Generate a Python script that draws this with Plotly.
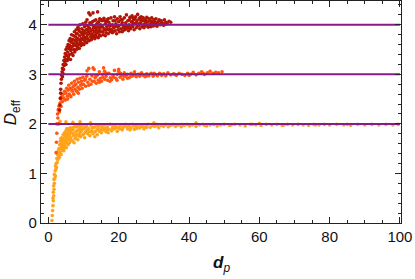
import plotly.graph_objects as go

# ---- data (d_p, D_eff) ----
series_names = ["D=2", "D=3", "D=4"]
series_colors = ["#FFA31A", "#FF5511", "#B01505"]
asymptotes = [2, 3, 4]
line_x = [0, 100]

orange_pts = [
    (1.0,0.05),(1.1,0.15),(1.2,0.25),(1.3,0.35),(1.3,0.5),(1.4,0.45),(1.4,0.62),(1.5,0.55),(1.5,0.75),(1.6,0.68),
    (1.6,0.88),(1.7,0.8),(1.7,0.98),(1.8,0.9),(1.9,1.05),(2.0,0.95),(2.0,1.15),(2.1,1.08),(2.2,1.2),(2.3,1.12),
    (2.4,1.3),(2.5,1.22),(2.6,1.38),(2.7,1.28),(2.8,1.45),(2.9,1.35),(3.0,1.5),(3.1,1.32),(3.2,1.58),(3.3,1.42),
    (3.4,1.65),(3.5,1.5),(3.6,1.38),(3.7,1.6),(3.8,1.72),(3.9,1.46),(4.0,1.66),(4.1,1.55),(4.2,1.78),(4.3,1.5),
    (4.4,1.7),(4.5,1.6),(4.6,1.82),(4.7,1.55),(4.8,1.75),(4.9,1.66),(5.0,1.86),(5.1,1.52),(5.2,1.72),(5.3,1.62),
    (5.4,1.8),(5.5,1.9),(5.6,1.58),(5.7,1.76),(5.8,1.68),(5.9,1.85),(6.0,1.62),(6.2,1.92),(6.4,1.72),(6.6,1.82),
    (6.8,1.66),(7.0,1.88),(7.2,1.76),(7.4,1.94),(7.6,1.7),(7.8,1.84),(8.0,1.78),(8.2,1.95),(8.4,1.68),(8.6,1.88),
    (8.8,1.8),(9.0,1.92),(9.2,1.74),(9.4,1.86),(9.6,1.97),(9.8,1.78),(10.0,1.9),(10.3,1.72),(10.6,1.84),(10.9,1.95),
    (11.2,1.8),(11.5,1.9),(11.8,1.76),(12.1,1.97),(12.4,1.86),(12.7,1.8),(13.0,1.93),(13.3,1.84),(13.6,1.98),(13.9,1.78),
    (14.2,1.9),(14.5,1.85),(14.8,1.96),(15.1,1.82),(15.4,1.92),(15.7,1.88),(16.0,1.98),(16.4,1.84),(16.8,1.94),(17.2,1.89),
    (17.6,1.99),(18.0,1.86),(18.4,1.95),(18.8,1.9),(19.2,1.98),(19.6,1.85),(20.0,1.93),(20.5,1.97),(21.0,1.88),(21.5,1.95),
    (22.0,1.99),(22.5,1.9),(23.0,1.96),(23.5,1.92),(24.0,1.99),(24.5,1.89),(25.0,1.95),(25.5,1.98),(26.0,1.92),(26.6,1.97),
    (27.2,1.9),(27.8,1.96),(28.4,1.99),(29.0,1.93),(29.6,1.97),(30.2,1.95),(30.8,1.99),(31.4,1.92),(32.0,1.97),(32.7,1.95),
    (33.4,1.99),(34.1,1.94),(34.8,1.97),(35.5,1.99),(36.2,1.95),(37.0,1.98),(37.8,1.94),(38.6,1.97),(39.4,1.99),(40.2,1.96),
    (41.0,1.98),(42.0,1.95),(43.0,1.98),(44.0,1.99),(45.0,1.96),(46.0,1.98),(47.0,1.99),(48.0,1.96),(49.0,1.98),(50.0,1.99),
    (51.5,1.97),(53.0,1.99),(54.5,1.98),(56.0,1.96),(57.5,1.99),(59.0,1.98),(60.5,1.97),(62.0,1.99),(63.5,1.98),(65.0,1.99),
    (66.5,1.97),(68.0,1.99),(69.5,1.98),(71.0,1.99),(72.5,1.98),(74.0,1.97),(75.5,1.99),(77.0,1.98),(78.5,1.99),(80.0,1.98),
    (82.0,1.99),(84.0,1.98),(86.0,1.97),(88.0,1.99),(90.0,1.98),(92.0,1.99),(94.0,1.98),(96.0,1.99),(98.0,1.98),(99.5,1.99),
    (3.3,2.05),(5.0,2.04),(7.0,2.03),(9.0,2.04),(12.0,2.02),(30.0,2.02),(42.0,2.02),(60.0,2.01),
    (3.5,1.7),(4.4,1.46),(5.2,1.9),(6.1,1.78),(6.9,1.92),(7.3,1.62),(8.1,1.86),(9.1,1.84),(10.1,1.8),(11.0,1.88),
    (12.0,1.84),(13.2,1.74),(14.0,1.95),(15.0,1.88),(16.2,1.91),(17.0,1.82),(18.2,1.91),(19.4,1.93),(21.2,1.92),(23.2,1.88),
    (25.2,1.91),(27.0,1.94),(3.8,1.55),(4.6,1.68),(5.5,1.7),(6.4,1.88),(7.8,1.72),(8.8,1.96),
    (4.2,1.62),(4.9,1.78),(5.7,1.84),(6.3,1.66),(7.1,1.8),(7.9,1.94),(8.6,1.76),(9.4,1.9),(10.5,1.94),(11.4,1.84),
    (12.5,1.92),(13.8,1.88),(15.3,1.96),(16.6,1.88),(18.6,1.97),(20.3,1.9),(22.3,1.94),(24.3,1.96),(26.3,1.95),(28.0,1.93),
    (31.0,1.96),(33.0,1.97),(36.0,1.97),(38.0,1.99),(44.5,1.97),(52.0,1.98),(58.0,1.99),(67.0,1.98),(76.0,1.98),(85.0,1.99),
]

orangered_pts = [
    (2.6,2.2),(2.8,2.28),(3.0,2.36),(3.1,2.24),(3.3,2.42),(3.5,2.5),(3.6,2.35),(3.8,2.55),(4.0,2.45),(4.2,2.6),
    (4.4,2.52),(4.6,2.66),(4.8,2.48),(5.0,2.62),(5.2,2.72),(5.4,2.56),(5.6,2.68),(5.8,2.78),(6.0,2.6),(6.2,2.72),
    (6.4,2.55),(6.6,2.82),(6.8,2.66),(7.0,2.75),(7.2,2.6),(7.4,2.86),(7.6,2.7),(7.8,2.8),(8.0,2.66),(8.2,2.9),
    (8.4,2.74),(8.6,2.84),(8.8,2.7),(9.0,2.92),(9.2,2.78),(9.4,2.86),(9.6,2.72),(9.8,2.94),(10.0,2.8),(10.3,2.88),
    (10.6,2.76),(10.9,2.96),(11.2,2.84),(11.5,3.12),(11.8,2.9),(12.1,2.8),(12.4,2.97),(12.7,3.13),(13.0,2.86),(13.3,2.93),
    (13.6,2.82),(13.9,2.98),(14.2,2.88),(14.5,3.05),(14.8,2.92),(15.1,2.86),(15.4,3.0),(15.7,3.13),(16.0,2.9),(16.4,2.96),
    (16.8,2.88),(17.2,3.02),(17.6,2.93),(18.0,2.89),(18.4,2.98),(18.8,3.08),(19.2,2.92),(19.6,3.0),(20.0,3.1),(20.4,2.94),
    (20.8,2.98),(21.2,2.9),(21.6,3.03),(22.0,2.96),(22.5,3.0),(23.0,2.93),(23.5,3.02),(24.0,2.97),(24.5,3.05),(25.0,2.95),
    (25.5,3.0),(26.0,2.96),(26.5,3.03),(27.0,2.98),(27.5,2.95),(28.0,3.01),(28.6,2.97),(29.2,3.02),(29.8,2.96),(30.4,3.0),
    (31.0,2.97),(31.6,3.02),(32.2,2.98),(32.8,3.01),(33.4,2.97),(34.0,3.03),(34.8,2.99),(35.6,3.01),(36.4,2.98),(37.2,3.02),
    (38.0,3.0),(38.8,2.98),(39.6,3.02),(40.4,3.0),(41.2,3.04),(42.0,2.99),(42.8,3.02),(43.6,3.05),(44.4,3.0),(45.2,3.03),
    (46.0,3.06),(46.8,3.02),(47.6,3.04),(48.4,3.03),(49.4,3.05),
    (2.4,2.0),(3.0,2.0),(2.4,1.81),(2.3,1.63),(2.2,1.42),(2.7,2.12),(2.9,2.3),
    (5.5,2.5),(6.5,2.7),(7.5,2.78),(8.5,2.62),(9.5,2.8),(10.5,2.9),(11.5,2.78),(12.5,2.86),(13.5,2.96),(14.5,2.84),
    (15.5,2.94),(16.5,3.02),(17.5,2.86),(18.5,2.94),(19.5,2.88),(20.5,3.02),(21.5,2.96),(22.5,2.92),(23.5,2.96),(24.5,2.99),
    (26.0,3.0),(28.0,2.97),(30.0,3.02),(32.0,3.0),(36.0,3.0),(40.0,2.98),(44.0,3.02),(11.0,3.07),(13.0,3.1),(16.0,3.06),(20.0,3.06),
]

darkred_pts = [
    (3.2,2.28),(3.3,2.38),(3.4,2.52),(3.5,2.62),(3.5,2.7),(3.6,2.82),(3.7,2.9),(3.8,2.98),(3.9,3.05),(4.0,2.95),
    (4.0,3.12),(4.1,3.02),(4.2,3.2),(4.3,3.1),(4.4,3.28),(4.5,3.18),(4.6,3.35),(4.7,3.25),(4.8,3.42),(4.9,3.3),
    (5.0,3.5),(5.0,3.2),(5.2,3.38),(5.3,3.55),(5.4,3.28),(5.5,3.45),(5.6,3.6),(5.7,3.35),(5.8,3.52),(5.9,3.68),
    (6.0,3.4),(6.1,3.58),(6.2,3.72),(6.3,3.3),(6.4,3.48),(6.5,3.65),(6.6,3.8),(6.7,3.42),(6.8,3.56),(6.9,3.7),
    (7.0,3.38),(7.1,3.62),(7.2,3.78),(7.3,3.5),(7.4,3.86),(7.5,3.45),(7.6,3.68),(7.7,3.58),(7.8,3.75),(7.9,3.9),
    (8.0,3.5),(8.1,3.64),(8.2,3.82),(8.3,3.55),(8.4,3.95),(8.5,3.7),(8.6,3.6),(8.7,3.88),(8.8,3.52),(8.9,3.78),
    (9.0,4.0),(9.1,3.66),(9.2,3.85),(9.3,3.58),(9.4,3.72),(9.5,3.92),(9.6,3.62),(9.7,3.8),(9.8,4.02),(9.9,3.7),
    (10.0,3.88),(10.1,3.6),(10.2,3.76),(10.3,3.96),(10.4,3.66),(10.5,3.84),(10.6,4.05),(10.7,3.72),(10.8,3.9),(10.9,3.64),
    (11.0,4.1),(11.1,3.8),(11.2,3.98),(11.3,3.7),(11.4,3.86),(11.5,4.24),(11.6,3.68),(11.7,3.93),(11.8,4.04),(11.9,4.2),
    (12.0,3.76),(12.1,3.88),(12.2,3.7),(12.3,4.0),(12.4,3.82),(12.5,4.06),(12.6,3.74),(12.7,4.24),(12.8,3.94),(12.9,3.78),
    (13.0,4.08),(13.1,3.86),(13.2,3.72),(13.3,3.98),(13.4,3.8),(13.5,4.1),(13.6,3.9),(13.7,3.76),(13.8,4.02),(13.9,3.84),
    (14.0,4.26),(14.1,3.95),(14.2,3.74),(14.3,4.06),(14.4,3.88),(14.5,3.8),(14.6,4.12),(14.7,3.92),(14.8,4.0),(14.9,3.78),
    (15.0,3.86),(15.2,4.08),(15.4,3.96),(15.6,3.8),(15.8,4.13),(16.0,3.9),(16.2,4.02),(16.4,3.84),(16.6,3.96),(16.8,4.1),
    (17.0,3.82),(17.2,4.05),(17.4,3.92),(17.6,3.86),(17.8,4.14),(18.0,3.98),(18.2,3.84),(18.4,4.08),(18.6,3.94),(18.8,4.16),
    (19.0,3.88),(19.2,4.02),(19.4,3.82),(19.6,4.12),(19.8,3.96),(20.0,4.06),(20.2,3.86),(20.4,4.16),(20.6,3.92),(20.8,4.0),
    (21.0,4.1),(21.2,3.88),(21.4,3.98),(21.6,4.14),(21.8,3.9),(22.0,4.04),(22.2,4.2),(22.4,3.94),(22.6,4.08),(22.8,3.88),
    (23.0,4.0),(23.2,4.15),(23.4,3.92),(23.6,4.06),(23.8,4.18),(24.0,3.96),(24.2,4.1),(24.4,3.9),(24.6,4.02),(24.8,4.16),
    (25.0,3.94),(25.2,4.08),(25.4,4.21),(25.6,3.98),(25.8,4.12),(26.0,3.92),(26.2,4.04),(26.4,4.16),(26.6,3.96),(26.8,4.08),
    (27.0,4.14),(27.2,3.94),(27.4,4.02),(27.6,4.1),(27.8,3.98),(28.0,4.15),(28.2,4.06),(28.4,3.95),(28.6,4.12),(28.8,4.0),
    (29.0,4.08),(29.2,3.96),(29.4,4.14),(29.6,4.04),(29.8,3.98),(30.0,4.1),(30.3,4.02),(30.6,4.12),(30.9,3.97),(31.2,4.06),
    (31.5,4.1),(31.8,4.0),(32.1,4.08),(32.4,4.04),(32.7,3.99),(33.0,4.1),(33.4,4.05),(33.8,4.02),(34.3,4.07),(34.8,4.05),
    (8.3,3.72),(9.2,3.7),(10.1,3.82),(11.0,3.9),(11.8,3.82),(12.6,3.9),(13.4,3.94),(14.2,3.86),(15.0,3.98),(15.8,3.92),
    (16.6,4.06),(17.4,3.98),(18.2,4.0),(19.0,4.08),(19.8,3.9),(20.6,4.1),(21.4,3.94),(22.2,3.98),(23.0,4.1),(23.8,3.98),
    (24.6,4.12),(25.4,3.98),(26.2,4.1),(27.0,4.0),(27.8,4.06),(28.6,3.98),(29.4,4.06),(30.2,4.06),(31.0,4.04),(31.8,4.08),
    (16.2,3.78),(17.0,3.9),(18.0,3.9),(19.4,3.98),(21.0,3.86),(22.6,3.94),(24.0,4.04),(25.8,4.02),(27.4,4.08),
    (5.5,3.3),(6.0,3.55),(6.5,3.5),(7.0,3.7),(7.5,3.6),(8.0,3.82),(8.5,3.92),(9.0,3.62),(9.5,3.84),(10.0,3.74),
    (10.5,3.98),(11.0,3.74),(11.5,3.94),(12.0,4.02),(12.5,3.8),(13.0,3.96),(13.5,3.86),(14.0,4.04),(14.5,3.96),(15.0,4.1),
    (15.5,3.86),(16.0,4.08),(16.5,3.9),(17.0,4.12),(17.5,4.0),(18.5,3.86),(19.0,3.96),(20.0,3.98),(21.0,4.04),(22.0,3.92),
    (23.0,3.96),(24.0,4.14),(25.0,4.04),(26.0,4.14),(27.0,3.96),(28.0,4.0),(29.0,4.02),(30.0,3.98),(32.0,4.02),(33.0,4.0),
]

x_ticks = [0, 20, 40, 60, 80, 100]
y_ticks = [0, 1, 2, 3, 4]

FONT = "Liberation Sans, Arial, sans-serif"
fig = go.Figure()

for pts, name, col in zip([orange_pts, orangered_pts, darkred_pts], series_names, series_colors):
    xs, ys = zip(*pts)
    fig.add_trace(go.Scatter(x=list(xs), y=list(ys), mode="markers", name=name,
                             marker=dict(color=col, size=3.6, line=dict(width=0)),
                             showlegend=False))

for lvl in asymptotes:
    fig.add_trace(go.Scatter(x=line_x, y=[lvl, lvl], mode="lines",
                             line=dict(color="#8A1A8A", width=2), showlegend=False))

axis_common = dict(showgrid=False, zeroline=False, showline=True, linecolor="#222222",
                   linewidth=1.3, mirror="allticks", ticks="inside", ticklen=6,
                   tickwidth=1, tickcolor="#222222",
                   tickfont=dict(family=FONT, size=15, color="#111111"))

fig.update_xaxes(range=[-2.1, 100.3], tickvals=x_ticks,
                 minor=dict(ticks="inside", ticklen=3, dtick=5, tick0=0, tickcolor="#222222"),
                 **axis_common)
fig.update_yaxes(range=[0, 4.48], tickvals=y_ticks,
                 minor=dict(ticks="inside", ticklen=3, dtick=0.2, tick0=0, tickcolor="#222222"),
                 **axis_common)

fig.add_annotation(text="<i>D</i><sub>eff</sub>", xref="paper", yref="paper",
                   x=-0.08, y=0.5, xanchor="center", yanchor="middle", textangle=-90,
                   showarrow=False, font=dict(family=FONT, size=17, color="#111111"))
fig.add_annotation(text="<b><i>d</i></b><sub><i>p</i></sub>", xref="paper", yref="paper",
                   x=0.5, y=-0.185, xanchor="center", yanchor="middle",
                   showarrow=False, font=dict(family=FONT, size=17, color="#111111"))

fig.update_layout(width=415, height=279, margin=dict(l=41, r=14, t=1, b=56),
                  plot_bgcolor="white", paper_bgcolor="white")

fig.write_html("out.html", config={"displayModeBar": False},
               post_script="document.body.style.margin='0';document.body.style.overflow='hidden';")
